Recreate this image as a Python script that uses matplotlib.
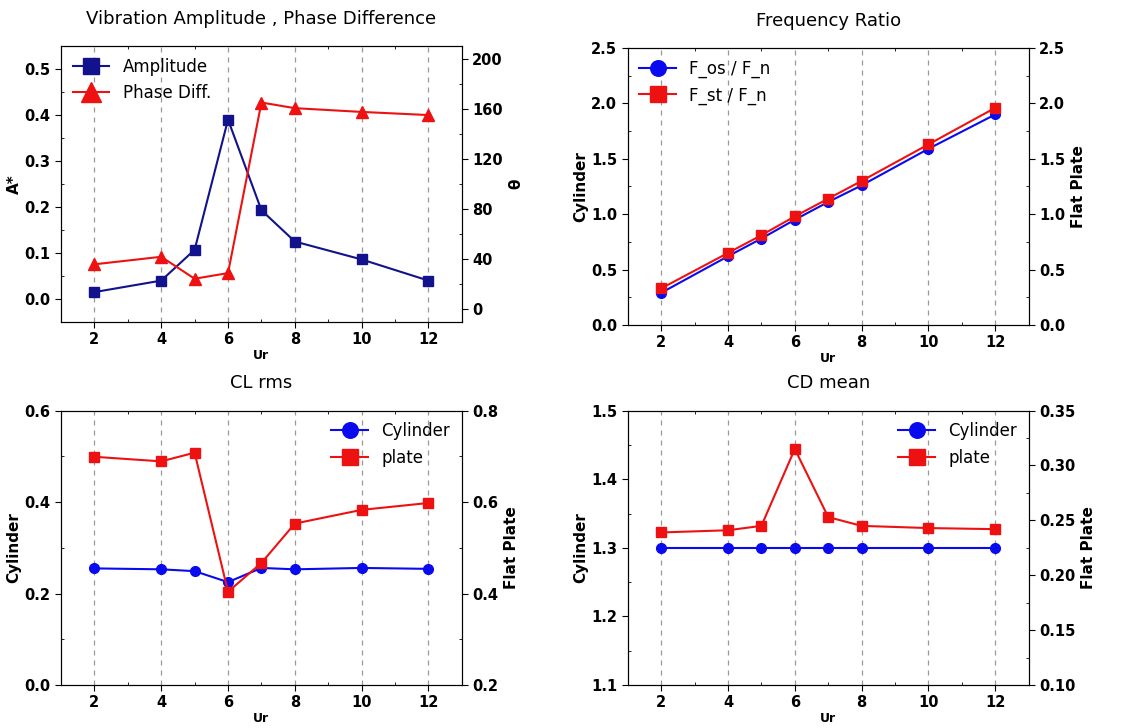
import numpy as np
import matplotlib
matplotlib.use("Agg")
import matplotlib.pyplot as plt
from matplotlib.ticker import MultipleLocator

plt.rcParams['font.family'] = ['DejaVu Sans']

ur = [2, 4, 5, 6, 7, 8, 10, 12]

amp = [0.015, 0.04, 0.107, 0.39, 0.193, 0.125, 0.086, 0.04]
phase = [36, 42, 24.5, 29, 165, 160.5, 157.5, 155]

f_os = [0.29, 0.62, 0.78, 0.95, 1.11, 1.26, 1.59, 1.90]
f_st = [0.33, 0.65, 0.81, 0.98, 1.14, 1.30, 1.63, 1.96]

cl_cyl = [0.255, 0.253, 0.249, 0.225, 0.256, 0.253, 0.256, 0.254]
cl_plate = [0.699, 0.689, 0.708, 0.404, 0.467, 0.553, 0.583, 0.598]

cd_cyl = [1.3, 1.3, 1.3, 1.3, 1.3, 1.3, 1.3, 1.3]
cd_plate = [0.239, 0.241, 0.245, 0.315, 0.253, 0.245, 0.243, 0.242]

BLUE = '#0a0aee'
NAVY = '#12128c'
RED = '#ee1111'

fig = plt.figure(figsize=(11.23, 7.28), dpi=100)


def style(ax, title, ylab):
    ax.set_xlim(1, 13)
    ax.set_xticks([2, 4, 6, 8, 10, 12])
    ax.xaxis.set_minor_locator(MultipleLocator(1))
    ax.grid(axis='x', which='major', linestyle=(0, (4, 4)), color='#999999', linewidth=0.9)
    ax.set_axisbelow(True)
    ax.tick_params(which='major', direction='out', length=4, labelsize=10.5)
    ax.tick_params(which='minor', direction='in', length=2.5, top=True)
    for lab in ax.get_xticklabels() + ax.get_yticklabels():
        lab.set_fontweight('bold')
    ax.set_xlabel('Ur', fontsize=9, fontweight='bold', labelpad=1)
    ax.set_ylabel(ylab, fontsize=11, fontweight='bold', labelpad=2)
    ax.set_title(title, fontsize=13, pad=16)


def style_right(ax2, ylab):
    ax2.tick_params(which='major', direction='out', length=4, labelsize=10.5)
    ax2.tick_params(which='minor', direction='in', length=2.5)
    for lab in ax2.get_yticklabels():
        lab.set_fontweight('bold')
    ax2.set_ylabel(ylab, fontsize=11, fontweight='bold', labelpad=4)


# panel 1
ax1 = fig.add_axes([0.0543, 0.5577, 0.357, 0.379])
ax1.set_ylim(-0.05, 0.55)
ax1.set_yticks(np.arange(0, 0.51, 0.1))
ax1.yaxis.set_minor_locator(MultipleLocator(0.05))
l1, = ax1.plot(ur, amp, color=NAVY, marker='s', markersize=7, linewidth=1.5, label='Amplitude')
ax1b = ax1.twinx()
ax1b.set_ylim(-10, 210)
ax1b.set_yticks(np.arange(0, 201, 40))
ax1b.yaxis.set_minor_locator(MultipleLocator(20))
l2, = ax1b.plot(ur, phase, color=RED, marker='^', markersize=9, linewidth=1.5, label='Phase Diff.')
style(ax1, 'Vibration Amplitude , Phase Difference', 'A*')
style_right(ax1b, 'θ')
ax1.legend(handles=[l1, l2], loc='upper left', frameon=False, fontsize=12, markerscale=1.6,
           handlelength=2.2, borderaxespad=0.3)

# panel 2
ax2 = fig.add_axes([0.559, 0.5536, 0.357, 0.3805])
ax2.set_ylim(0, 2.5)
ax2.yaxis.set_minor_locator(MultipleLocator(0.25))
m1, = ax2.plot(ur, f_os, color=BLUE, marker='o', markersize=7, linewidth=1.5, label='F_os / F_n')
ax2b = ax2.twinx()
ax2b.set_ylim(0, 2.5)
ax2b.yaxis.set_minor_locator(MultipleLocator(0.25))
m2, = ax2b.plot(ur, f_st, color=RED, marker='s', markersize=7, linewidth=1.5, label='F_st / F_n')
style(ax2, 'Frequency Ratio', 'Cylinder')
style_right(ax2b, 'Flat Plate')
ax2.legend(handles=[m1, m2], loc='upper left', frameon=False, fontsize=12, markerscale=1.6,
           handlelength=2.2, borderaxespad=0.3)

# panel 3
ax3 = fig.add_axes([0.0543, 0.0590, 0.357, 0.3770])
ax3.set_ylim(0, 0.6)
ax3.set_yticks([0, 0.2, 0.4, 0.6])
ax3.yaxis.set_minor_locator(MultipleLocator(0.1))
n1, = ax3.plot(ur, cl_cyl, color=BLUE, marker='o', markersize=7, linewidth=1.5, label='Cylinder')
ax3b = ax3.twinx()
ax3b.set_ylim(0.2, 0.8)
ax3b.set_yticks([0.2, 0.4, 0.6, 0.8])
ax3b.yaxis.set_minor_locator(MultipleLocator(0.1))
n2, = ax3b.plot(ur, cl_plate, color=RED, marker='s', markersize=7, linewidth=1.5, label='plate')
style(ax3, 'CL rms', 'Cylinder')
style_right(ax3b, 'Flat Plate')
ax3b.legend(handles=[n1, n2], loc='upper right', frameon=False, fontsize=12, markerscale=1.6,
            handlelength=2.2, borderaxespad=0.3)

# panel 4
ax4 = fig.add_axes([0.559, 0.0590, 0.357, 0.3770])
ax4.set_ylim(1.1, 1.5)
ax4.set_yticks([1.1, 1.2, 1.3, 1.4, 1.5])
ax4.yaxis.set_minor_locator(MultipleLocator(0.05))
p1, = ax4.plot(ur, cd_cyl, color=BLUE, marker='o', markersize=7, linewidth=1.5, label='Cylinder')
ax4b = ax4.twinx()
ax4b.set_ylim(0.10, 0.35)
ax4b.set_yticks([0.10, 0.15, 0.20, 0.25, 0.30, 0.35])
ax4b.yaxis.set_minor_locator(MultipleLocator(0.025))
p2, = ax4b.plot(ur, cd_plate, color=RED, marker='s', markersize=7, linewidth=1.5, label='plate')
style(ax4, 'CD mean', 'Cylinder')
style_right(ax4b, 'Flat Plate')
ax4b.legend(handles=[p1, p2], loc='upper right', frameon=False, fontsize=12, markerscale=1.6,
            handlelength=2.2, borderaxespad=0.3)

fig.savefig('out.png', dpi=100)
